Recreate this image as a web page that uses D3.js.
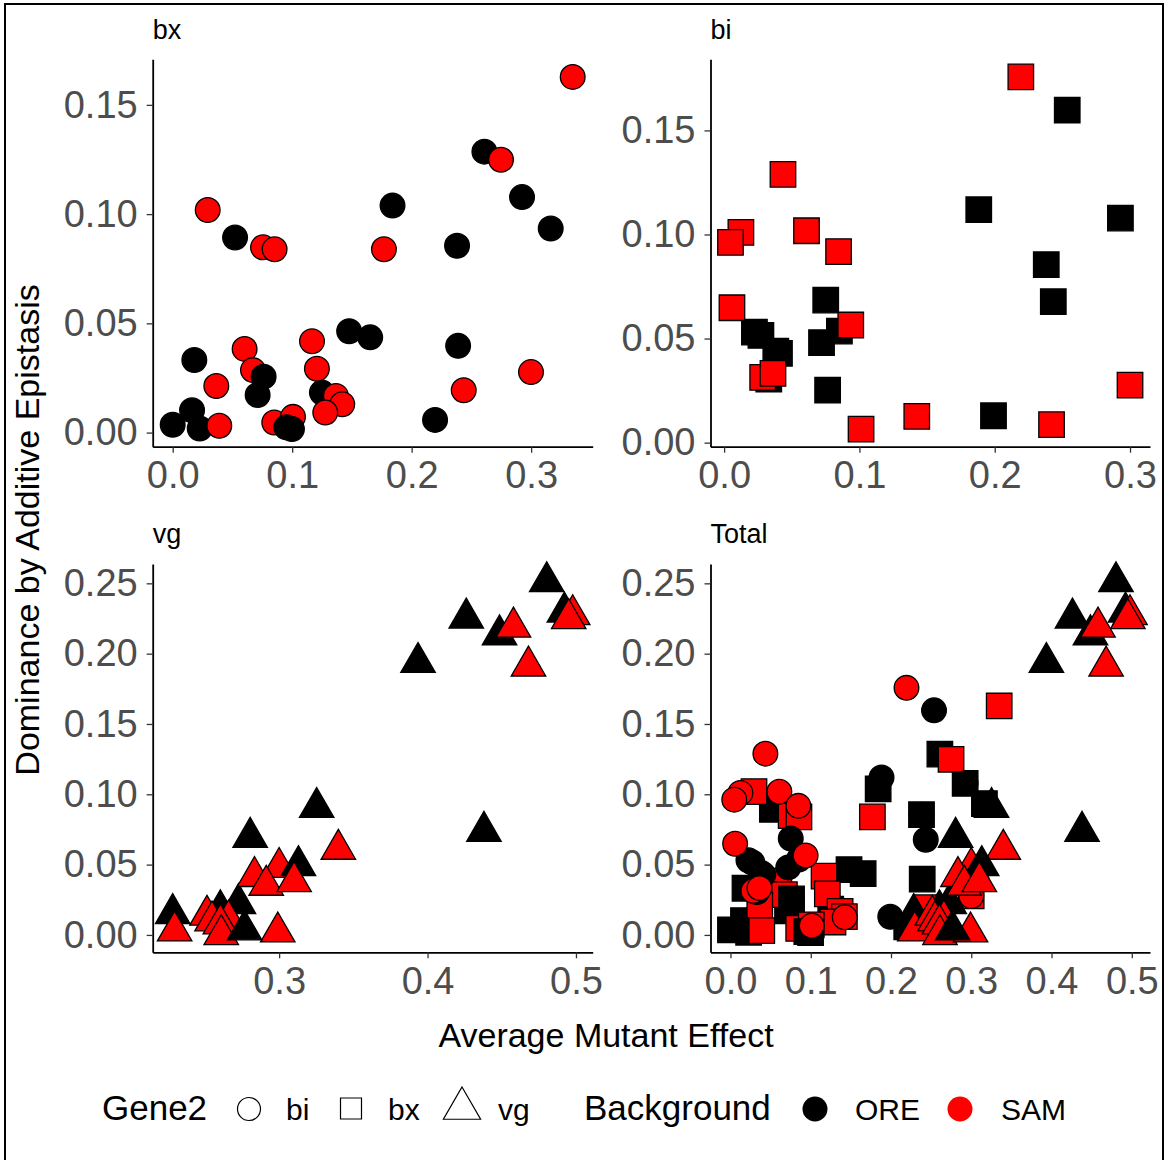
<!DOCTYPE html>
<html>
<head>
<meta charset="utf-8">
<script src="https://cdn.jsdelivr.net/npm/d3@7"></script>
<style>
  body { margin: 0; background: #fff; }
  text { font-family: Helvetica, Arial, "Liberation Sans", sans-serif; }
</style>
</head>
<body>
<svg id="chart" width="1171" height="1160"></svg>
<script>
// ---- Data: average mutant effect (x) vs dominance by additive epistasis (y) ----
const facets = ["bx", "bi", "vg", "Total"];

// bx facet (partner gene bi)
const bxEffect = [0.2609, 0.1840, 0.2924, 0.3164, 0.0522, 0.2380, 0.1477, 0.1653, 0.2389, 0.0181,
  0.0711, 0.1249, 0.0162, 0.0000, 0.0226, 0.2196,
  0.3348, 0.2748, 0.0293, 0.0756, 0.0853, 0.1768, 0.0602, 0.1166, 0.0672, 0.0365,
  0.1207, 0.1366, 0.1419, 0.1277, 0.0390, 0.0850, 0.1007, 0.2999, 0.2436,
  0.0761, 0.0951, 0.0998];
const bxEpistasis = [0.1286, 0.1039, 0.1078, 0.0934, 0.0893, 0.0855, 0.0464, 0.0436, 0.0397, 0.0332,
  0.0172, 0.0183, 0.0102, 0.0036, 0.0019, 0.0058,
  0.1628, 0.1249, 0.1019, 0.0848, 0.0839, 0.0839, 0.0383, 0.0418, 0.0286, 0.0213,
  0.0292, 0.0168, 0.0130, 0.0092, 0.0031, 0.0046, 0.0072, 0.0277, 0.0194,
  0.0256, 0.0024, 0.0016];
const bxBackground = ["ORE","ORE","ORE","ORE","ORE","ORE","ORE","ORE","ORE","ORE",
  "ORE","ORE","ORE","ORE","ORE","ORE",
  "SAM","SAM","SAM","SAM","SAM","SAM","SAM","SAM","SAM","SAM",
  "SAM","SAM","SAM","SAM","SAM","SAM","SAM","SAM","SAM",
  "ORE","ORE","ORE"];

// bi facet (partner gene bx)
const biEffect = [0.2536, 0.1882, 0.2929, 0.2381, 0.2433, 0.1991, 0.0751, 0.0720, 0.0852, 0.0765,
  0.0224, 0.0272, 0.0382, 0.0409, 0.0330,
  0.2193, 0.0435, 0.0124, 0.0047, 0.0609, 0.0846, 0.0058, 0.0936, 0.0285, 0.0361,
  0.1012, 0.1424, 0.2420, 0.3000];
const biEpistasis = [0.1597, 0.1119, 0.1079, 0.0855, 0.0677, 0.0129, 0.0685, 0.0480, 0.0536, 0.0252,
  0.0531, 0.0515, 0.0440, 0.0429, 0.0305,
  0.1757, 0.1289, 0.1010, 0.0962, 0.1018, 0.0918, 0.0648, 0.0565, 0.0313, 0.0333,
  0.0065, 0.0126, 0.0086, 0.0276];
const biBackground = ["ORE","ORE","ORE","ORE","ORE","ORE","ORE","ORE","ORE","ORE",
  "ORE","ORE","ORE","ORE","ORE",
  "SAM","SAM","SAM","SAM","SAM","SAM","SAM","SAM","SAM","SAM",
  "SAM","SAM","SAM","SAM"];

// vg facet (partner gene vg)
const vgEffect = [0.4803, 0.4261, 0.4485, 0.4922, 0.3936, 0.4380, 0.3253, 0.2805, 0.2283, 0.2604, 0.2726,
  0.4978, 0.4951, 0.4579, 0.4680, 0.3399, 0.3000, 0.2834, 0.2296, 0.2514, 0.2548, 0.2659, 0.2604, 0.2610, 0.2991,
  0.3130, 0.2767,
  0.2913, 0.3101];
const vgEpistasis = [0.2512, 0.2253, 0.2134, 0.2296, 0.1938, 0.0737, 0.0906, 0.0694, 0.0152, 0.0180, 0.0223,
  0.2277, 0.2249, 0.2189, 0.1912, 0.0609, 0.0480, 0.0415, 0.0028, 0.0140, 0.0100, 0.0107, 0.0078, 0.0002, 0.0021,
  0.0493, 0.0036,
  0.0353, 0.0379];
const vgBackground = ["ORE","ORE","ORE","ORE","ORE","ORE","ORE","ORE","ORE","ORE","ORE",
  "SAM","SAM","SAM","SAM","SAM","SAM","SAM","SAM","SAM","SAM","SAM","SAM","SAM","SAM",
  "ORE","ORE",
  "SAM","SAM"];

// Tick values per facet
const bxXTicks = [0, 0.1, 0.2, 0.3];
const bxYTicks = [0, 0.05, 0.10, 0.15];
const biXTicks = [0, 0.1, 0.2, 0.3];
const biYTicks = [0, 0.05, 0.10, 0.15];
const vgXTicks = [0.3, 0.4, 0.5];
const vgYTicks = [0, 0.05, 0.10, 0.15, 0.20, 0.25];
const totalXTicks = [0, 0.1, 0.2, 0.3, 0.4, 0.5];
const totalYTicks = [0, 0.05, 0.10, 0.15, 0.20, 0.25];

const gene2Levels = ["bi", "bx", "vg"];
const backgroundLevels = ["ORE", "SAM"];

// ---- Encodings ----
const fillScale = d3.scaleOrdinal().domain(backgroundLevels).range(["#000000", "#FF0000"]);
const symbolType = { bi: d3.symbolCircle, bx: d3.symbolSquare, vg: d3.symbolTriangle };
const symbolArea = { bi: 479, bx: 650, vg: 515 };
const partner = { bx: "bi", bi: "bx", vg: "vg" };

function rows(gene, effect, epistasis, background) {
  return effect.map((x, i) => ({ gene, x, y: epistasis[i], bg: background[i] }));
}
const byGene = {
  bx: rows("bx", bxEffect, bxEpistasis, bxBackground),
  bi: rows("bi", biEffect, biEpistasis, biBackground),
  vg: rows("vg", vgEffect, vgEpistasis, vgBackground)
};

// Facet content: single-gene panels use the partner shape, Total shows every gene by its own shape
const facetData = {
  bx: byGene.bx.map(d => ({ ...d, shape: partner.bx })),
  bi: byGene.bi.map(d => ({ ...d, shape: partner.bi })),
  vg: byGene.vg.map(d => ({ ...d, shape: partner.vg })),
  Total: [...byGene.bx, ...byGene.bi, ...byGene.vg].map(d => ({ ...d, shape: d.gene }))
};
const facetTicks = {
  bx: [bxXTicks, bxYTicks], bi: [biXTicks, biYTicks],
  vg: [vgXTicks, vgYTicks], Total: [totalXTicks, totalYTicks]
};

// ---- Layout ----
const svg = d3.select("#chart");
svg.append("rect").attr("x", 5).attr("y", 4).attr("width", 1158).attr("height", 1180)
  .attr("fill", "none").attr("stroke", "#000").attr("stroke-width", 2);

const colX = [[152.7, 592.7], [710.5, 1150]];
const rowY = [[59.3, 446.7], [564, 952.3]];
const stripBaseline = [39.3, 542.5];

// ggplot-style continuous expansion: 5% of the data range on each side
function expanded(vals) {
  const [lo, hi] = d3.extent(vals);
  const pad = (hi - lo) * 0.05;
  return [lo - pad, hi + pad];
}

facets.forEach((name, i) => {
  const c = i % 2, r = Math.floor(i / 2);
  const data = facetData[name];
  const [xTicks, yTicks] = facetTicks[name];
  const x = d3.scaleLinear().domain(expanded(data.map(d => d.x))).range(colX[c]);
  const y = d3.scaleLinear().domain(expanded(data.map(d => d.y))).range([rowY[r][1], rowY[r][0]]);

  const g = svg.append("g");

  // facet strip label
  g.append("text").attr("x", colX[c][0]).attr("y", stripBaseline[r])
    .attr("font-size", 27).attr("fill", "#000").text(name);

  // points
  g.append("g").selectAll("path").data(data).join("path")
    .attr("transform", d => `translate(${x(d.x)},${y(d.y)})`)
    .attr("d", d => d3.symbol().type(symbolType[d.shape]).size(symbolArea[d.shape])())
    .attr("fill", d => fillScale(d.bg))
    .attr("stroke", "#000").attr("stroke-width", 1.3);

  // axes
  const xAxis = g.append("g").attr("transform", `translate(0,${rowY[r][1]})`)
    .call(d3.axisBottom(x).tickValues(xTicks).tickFormat(d3.format(".1f"))
      .tickSize(6).tickSizeOuter(0).tickPadding(8.5));
  const yAxis = g.append("g").attr("transform", `translate(${colX[c][0]},0)`)
    .call(d3.axisLeft(y).tickValues(yTicks).tickFormat(d3.format(".2f"))
      .tickSize(6).tickSizeOuter(0).tickPadding(9));
  [xAxis, yAxis].forEach(a => {
    a.select(".domain").attr("stroke", "#000").attr("stroke-width", 1.8);
    a.selectAll(".tick line").attr("stroke", "#333").attr("stroke-width", 1.3);
    a.selectAll(".tick text").attr("font-size", 38).attr("fill", "#4D4D4D")
      .attr("font-family", "Helvetica, Arial, 'Liberation Sans', sans-serif");
  });
});

// ---- Axis titles ----
svg.append("text").attr("x", 606).attr("y", 1046.7).attr("text-anchor", "middle")
  .attr("font-size", 34).attr("fill", "#000").text("Average Mutant Effect");
svg.append("text").attr("transform", "translate(39,530) rotate(-90)").attr("text-anchor", "middle")
  .attr("font-size", 34).attr("fill", "#000").text("Dominance by Additive Epistasis");

// ---- Legends ----
const legend = svg.append("g");
const legendBase = 1120;
legend.append("text").attr("x", 102).attr("y", legendBase).attr("font-size", 35).text("Gene2");
const gene2Pos = [
  { key: "bi", cx: 249, cy: 1109, tx: 286, area: 415 },
  { key: "bx", cx: 351, cy: 1108.5, tx: 388, area: 441 },
  { key: "vg", cx: 462, cy: 1108.5, tx: 498, area: 600 }
];
gene2Pos.forEach(p => {
  legend.append("path").attr("transform", `translate(${p.cx},${p.cy})`)
    .attr("d", d3.symbol().type(symbolType[p.key]).size(p.area)())
    .attr("fill", "#fff").attr("stroke", "#000").attr("stroke-width", 1.2);
  legend.append("text").attr("x", p.tx).attr("y", legendBase).attr("font-size", 30).text(p.key);
});
legend.append("text").attr("x", 584).attr("y", legendBase).attr("font-size", 35).text("Background");
const bgPos = [
  { key: "ORE", cx: 815, tx: 855 },
  { key: "SAM", cx: 960, tx: 1001 }
];
bgPos.forEach(p => {
  legend.append("circle").attr("cx", p.cx).attr("cy", 1109).attr("r", 12.5)
    .attr("fill", fillScale(p.key));
  legend.append("text").attr("x", p.tx).attr("y", legendBase).attr("font-size", 30).text(p.key);
});
</script>
</body>
</html>
